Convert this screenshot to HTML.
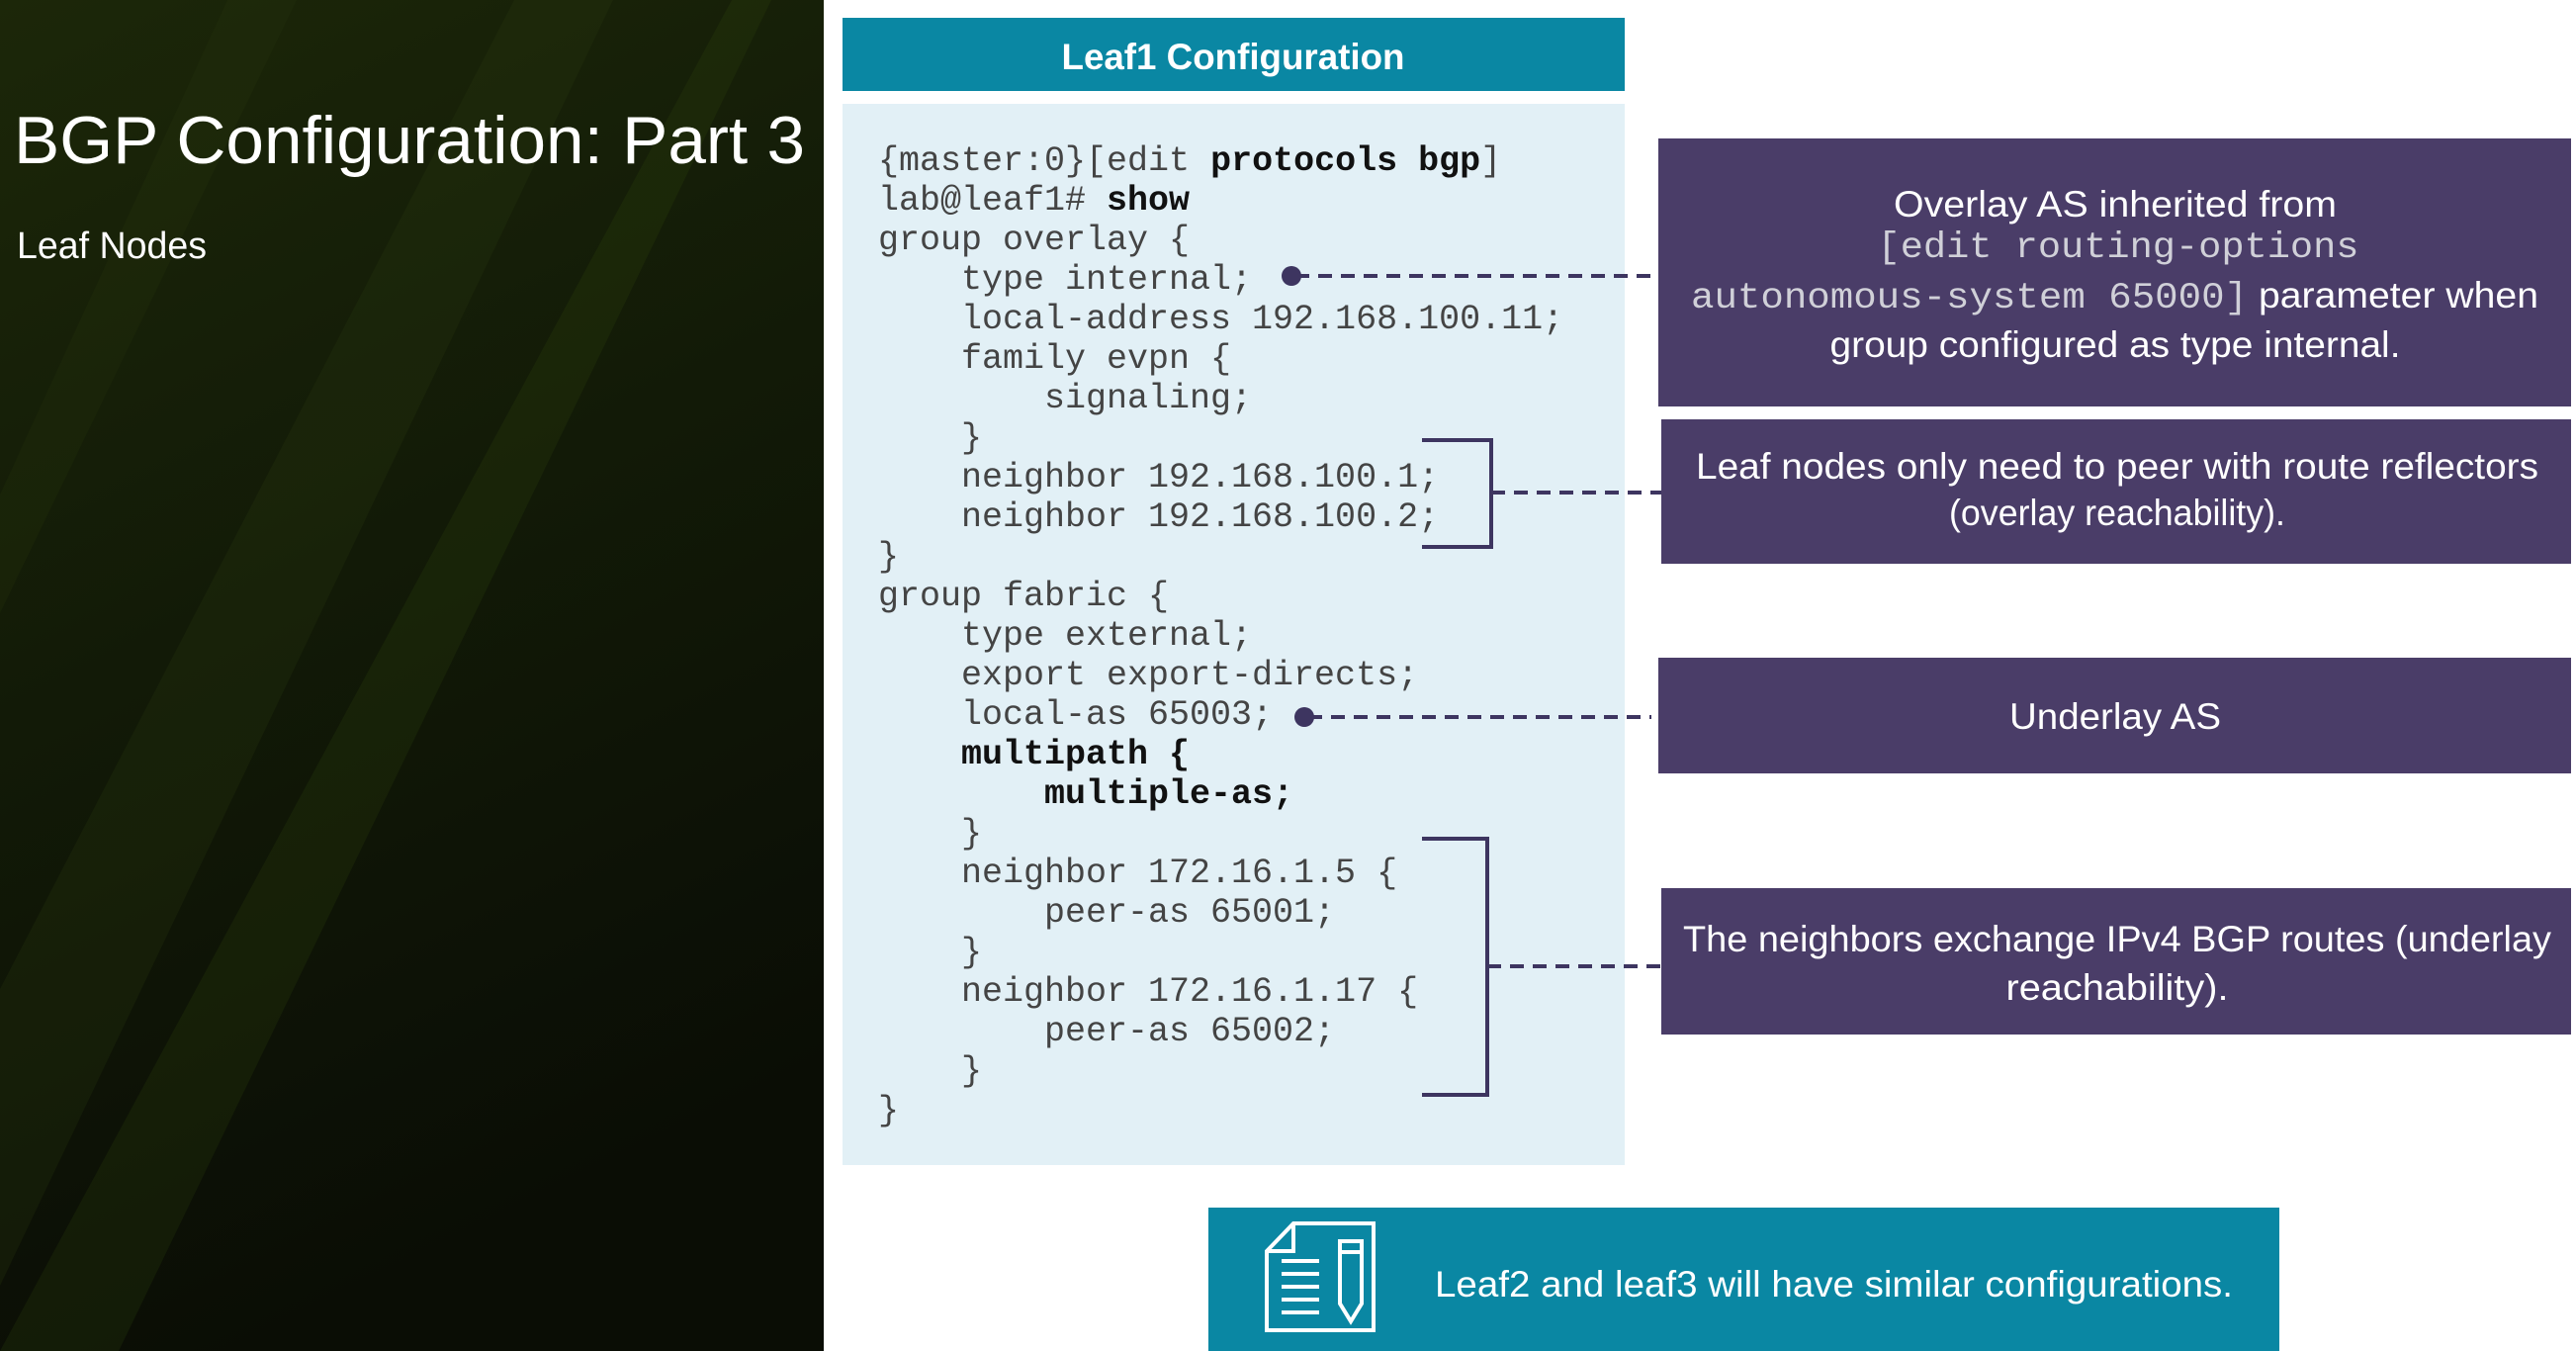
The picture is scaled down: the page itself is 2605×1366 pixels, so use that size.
<!DOCTYPE html>
<html><head><meta charset="utf-8"><style>
html,body{margin:0;padding:0;width:2605px;height:1366px;overflow:hidden;background:#fff}
svg{display:block}
.s{font-family:"Liberation Sans",sans-serif;fill:#fff}
.m{font-family:"Liberation Mono",monospace;fill:#444;font-size:35px}
.b{font-weight:bold;fill:#111}
</style></head><body>
<svg width="2605" height="1366" viewBox="0 0 2605 1366" xmlns="http://www.w3.org/2000/svg">
<defs>
<linearGradient id="bg" x1="0" y1="0" x2="0.3" y2="1">
<stop offset="0" stop-color="#1c2709"/><stop offset="0.5" stop-color="#121a07"/><stop offset="1" stop-color="#0a0d05"/>
</linearGradient>
</defs>
<rect x="0" y="0" width="833" height="1366" fill="url(#bg)"/>
<polygon points="0,1000 0,1300 620,0 520,0" fill="#2c3d0e" opacity="0.25"/>
<polygon points="0,1366 120,1366 780,0 740,0" fill="#36500f" opacity="0.2"/>
<polygon points="0,500 0,620 300,0 230,0" fill="#2d3e10" opacity="0.2"/>
<text class="s" x="14" y="165" font-size="68" textLength="800" lengthAdjust="spacingAndGlyphs">BGP Configuration: Part 3</text>
<text class="s" x="17" y="261" font-size="38" textLength="192" lengthAdjust="spacingAndGlyphs">Leaf Nodes</text>

<rect x="852" y="18" width="791" height="74" fill="#0a87a3"/>
<text class="s" x="1247" y="70" font-size="37" font-weight="bold" text-anchor="middle" textLength="347" lengthAdjust="spacingAndGlyphs">Leaf1 Configuration</text>
<rect x="852" y="105" width="791" height="1073" fill="#e2f0f6"/>

<g class="m">
<text x="888" y="172">{master:0}[edit <tspan class="b">protocols bgp</tspan>]</text>
<text x="888" y="212">lab@leaf1# <tspan class="b">show</tspan></text>
<text x="888" y="252">group overlay {</text>
<text x="972" y="292">type internal;</text>
<text x="972" y="332">local-address 192.168.100.11;</text>
<text x="972" y="372">family evpn {</text>
<text x="1056" y="412">signaling;</text>
<text x="972" y="452">}</text>
<text x="972" y="492">neighbor 192.168.100.1;</text>
<text x="972" y="532">neighbor 192.168.100.2;</text>
<text x="888" y="572">}</text>
<text x="888" y="612">group fabric {</text>
<text x="972" y="652">type external;</text>
<text x="972" y="692">export export-directs;</text>
<text x="972" y="732">local-as 65003;</text>
<text x="972" y="772" class="b">multipath {</text>
<text x="1056" y="812" class="b">multiple-as;</text>
<text x="972" y="852">}</text>
<text x="972" y="892">neighbor 172.16.1.5 {</text>
<text x="1056" y="932">peer-as 65001;</text>
<text x="972" y="972">}</text>
<text x="972" y="1012">neighbor 172.16.1.17 {</text>
<text x="1056" y="1052">peer-as 65002;</text>
<text x="972" y="1092">}</text>
<text x="888" y="1132">}</text>
</g>

<g stroke="#3d3560" stroke-width="4" fill="none">
<line x1="1310" y1="279" x2="1675" y2="279" stroke-dasharray="14,9"/>
<polyline points="1438,445 1508,445 1508,553 1438,553"/>
<line x1="1508" y1="498" x2="1680" y2="498" stroke-dasharray="14,9"/>
<line x1="1323" y1="725" x2="1670" y2="725" stroke-dasharray="14,9"/>
<polyline points="1438,848 1504,848 1504,1107 1438,1107"/>
<line x1="1504" y1="977" x2="1680" y2="977" stroke-dasharray="14,9"/>
</g>
<circle cx="1306" cy="279" r="10" fill="#3d3560"/>
<circle cx="1319" cy="725" r="10" fill="#3d3560"/>

<g fill="#4a3d68">
<rect x="1677" y="140" width="923" height="271"/>
<rect x="1680" y="424" width="920" height="146"/>
<rect x="1677" y="665" width="923" height="117"/>
<rect x="1680" y="898" width="920" height="148"/>
</g>
<g class="s" font-size="37" text-anchor="middle">
<text x="2139" y="219" textLength="448" lengthAdjust="spacingAndGlyphs">Overlay AS inherited from</text>
<text x="2142" y="260" style="font-family:'Liberation Mono',monospace;fill:#d0d0d8" textLength="487" lengthAdjust="spacingAndGlyphs">[edit routing-options</text>
<text x="2139" y="361" textLength="577" lengthAdjust="spacingAndGlyphs">group configured as type internal.</text>
<text x="2141" y="484" textLength="852" lengthAdjust="spacingAndGlyphs">Leaf nodes only need to peer with route reflectors</text>
<text x="2141" y="531" textLength="340" lengthAdjust="spacingAndGlyphs">(overlay reachability).</text>
<text x="2139" y="737" textLength="214" lengthAdjust="spacingAndGlyphs">Underlay AS</text>
<text x="2141" y="962" textLength="878" lengthAdjust="spacingAndGlyphs">The neighbors exchange IPv4 BGP routes (underlay</text>
<text x="2141" y="1011" textLength="225" lengthAdjust="spacingAndGlyphs">reachability).</text>
</g>
<text x="1710" y="311" style="font-family:'Liberation Mono',monospace;fill:#d0d0d8" font-size="37" textLength="563" lengthAdjust="spacingAndGlyphs">autonomous-system 65000]</text>
<text class="s" x="2284" y="311" font-size="37" textLength="283" lengthAdjust="spacingAndGlyphs">parameter when</text>

<rect x="1222" y="1221" width="1083" height="145" fill="#0a87a3"/>
<g stroke="#fff" stroke-width="4" fill="none">
<polygon points="1308,1237 1389,1237 1389,1345 1281,1345 1281,1265"/>
<polyline points="1308,1237 1308,1265 1281,1265"/>
<line x1="1296" y1="1275" x2="1334" y2="1275"/>
<line x1="1296" y1="1288" x2="1334" y2="1288"/>
<line x1="1296" y1="1301" x2="1334" y2="1301"/>
<line x1="1296" y1="1314" x2="1334" y2="1314"/>
<line x1="1296" y1="1327" x2="1334" y2="1327"/>
<polygon points="1355,1255 1377,1255 1377,1318 1366,1336 1355,1318"/>
<line x1="1355" y1="1266" x2="1377" y2="1266"/>
</g>
<text class="s" x="1451" y="1311" font-size="37" textLength="807" lengthAdjust="spacingAndGlyphs">Leaf2 and leaf3 will have similar configurations.</text>
</svg>
</body></html>
